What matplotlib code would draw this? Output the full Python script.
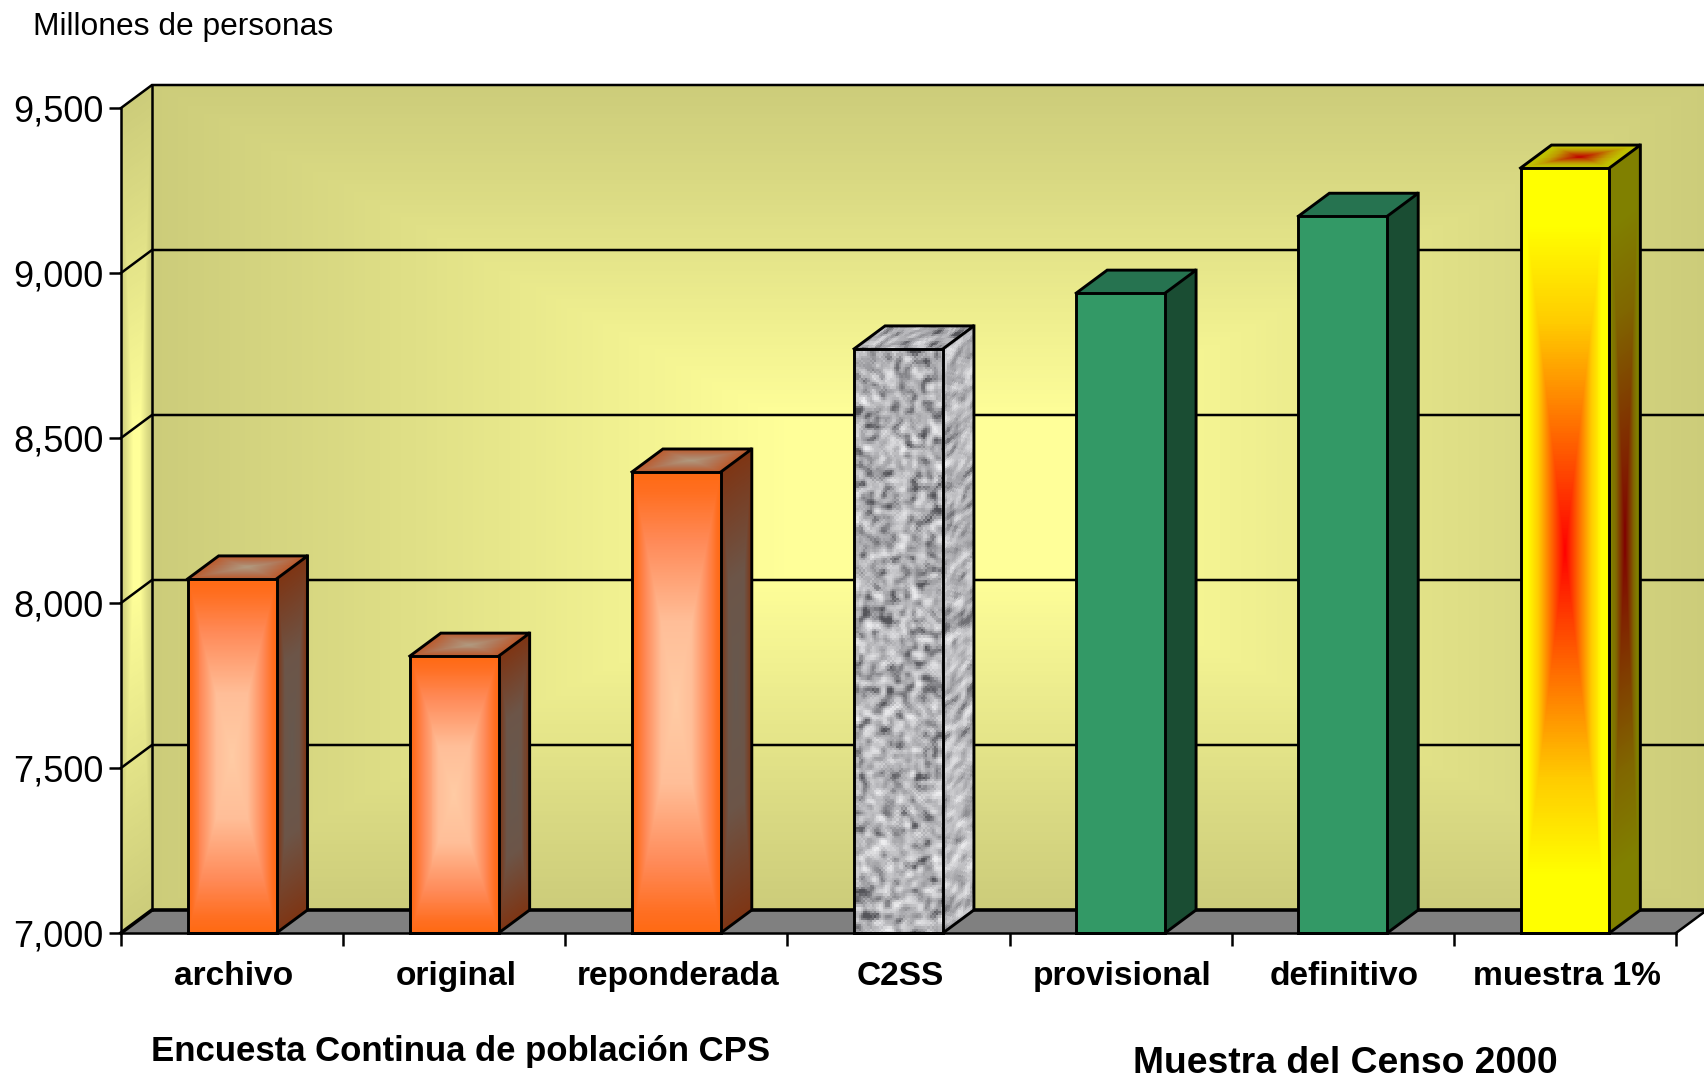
import numpy as np
import matplotlib
matplotlib.use('Agg')
import matplotlib.pyplot as plt
from matplotlib.colors import to_rgb

plt.rcParams['font.family'] = ['Liberation Sans', 'DejaVu Sans']

# datos
categorias = ['archivo', 'original', 'reponderada', 'C2SS', 'provisional', 'definitivo', 'muestra 1%']
valores = [8073, 7839, 8397, 8770, 8939, 9172, 9318]
marcas_y = [7000, 7500, 8000, 8500, 9000, 9500]
grupos = ['Encuesta Continua de población CPS', 'Muestra del Censo 2000']

W, H = 1704, 1082
fig = plt.figure(figsize=(W / 100, H / 100), dpi=100)
ax = fig.add_axes([121 / W, (H - 933) / H, 1555 / W, 825 / H])
ax.patch.set_visible(False)

# profundidad del efecto 3D en unidades de datos
DX = 31 / 222.14
DY = 23 / 0.33


def grad(stops, t):
    pos = [p for p, c in stops]
    rgb = np.array([to_rgb(c) for p, c in stops])
    return np.dstack([np.interp(t, pos, rgb[:, k]) for k in range(3)])


def centro(nx, ny, px=1.0, py=1.0):
    # degradado rectangular desde el centro de la cara
    u = np.abs(np.linspace(-1, 1, nx))
    v = np.abs(np.linspace(-1, 1, ny))
    U, V = np.meshgrid(u, v)
    return np.maximum(U ** px, V ** py)


def textura(nx, ny, seed):
    # ruido de granito, solo textura
    X, Y = np.meshgrid(np.arange(nx) + seed, np.arange(ny) + seed * 2)
    n = np.sin(X * 12.9898 + Y * 78.233) * 43758.5453
    n = n - np.floor(n)
    for _ in range(3):
        n = (n + np.roll(n, 1, 0) + np.roll(n, -1, 0) + np.roll(n, 1, 1) + np.roll(n, -1, 1)) / 5
    n = (n - n.mean()) / n.std()
    return np.clip(0.47 + n * 0.19, 0, 1)


def cara(p0, e1, e2, rgb, z):
    ny, nx = rgb.shape[:2]
    a = np.linspace(0, 1, nx + 1)
    b = np.linspace(0, 1, ny + 1)
    A, B = np.meshgrid(a, b)
    X = p0[0] + A * e1[0] + B * e2[0]
    Y = p0[1] + A * e1[1] + B * e2[1]
    m = ax.pcolormesh(X, Y, rgb, shading='flat', antialiased=False, linewidth=0, zorder=z)
    m.set_clip_on(False)


def linea(xs, ys, z, lw=1.8):
    ax.plot(xs, ys, color='black', lw=lw, zorder=z, clip_on=False, solid_capstyle='projecting',
            solid_joinstyle='miter')


ymin, ymax = marcas_y[0], marcas_y[-1]
n = len(categorias)

# pared del fondo, pared lateral y suelo
pared = [(0, '#FFFF99'), (0.18, '#FFFF99'), (0.75, '#DADA83'), (1, '#CCCC7A')]
cara((DX, ymin + DY), (n, 0), (0, ymax - ymin), grad(pared, centro(300, 200)), 1)
cara((0, ymin), (DX, DY), (0, ymax - ymin), grad(pared, centro(30, 200)), 1)
cara((0, ymin), (n, 0), (DX, DY), np.full((1, 1, 3), to_rgb('#808080')), 1)

for v in marcas_y:
    if v > ymin:
        linea([0, DX, n + DX], [v, v + DY, v + DY], 2)
linea([DX, DX], [ymin + DY, ymax + DY], 2)
linea([0, DX, n + DX], [ymin, ymin + DY, ymin + DY], 2, lw=2.6)
linea([n, n + DX], [ymin, ymin + DY], 2)

# estilos de cada barra: frente, lado, arriba
naranja = ([(0, '#FFCBA4'), (0.35, '#FFBE98'), (0.7, '#FF8A58'), (0.92, '#FF6E20'), (1, '#FF6A13')],
           [(0, '#66584E'), (0.5, '#6C5548'), (1, '#7E3514')],
           [(0, '#B09A80'), (0.5, '#B07A5C'), (1, '#BC5A2C')])
verde = ([(0, '#339966'), (1, '#339966')],
         [(0, '#1A4D33'), (1, '#1A4D33')],
         [(0, '#267350'), (1, '#267350')])
fuego = ([(0, '#FF0000'), (0.3, '#FF6600'), (0.6, '#FFCC00'), (0.85, '#FFFF00'), (1, '#FFFF00')],
         [(0, '#800000'), (0.3, '#803300'), (0.6, '#806600'), (0.85, '#808000'), (1, '#808000')],
         [(0, '#BF0000'), (0.3, '#BF4C00'), (0.6, '#BF9900'), (0.85, '#BFBF00'), (1, '#BFBF00')])
granito = [(0, '#55555A'), (0.35, '#A2A2A6'), (0.7, '#CFCFD2'), (1, '#EDEDEF')]
estilos = [naranja, naranja, naranja, granito, verde, verde, fuego]

for i, (val, est) in enumerate(zip(valores, estilos)):
    x0, x1 = i + 0.3, i + 0.7
    alto = val - ymin
    if est is granito:
        ny = int(alto * 0.33 / 2.2)
        cara((x0, ymin), (0.4, 0), (0, alto), grad(est, textura(40, ny, 3)), 3 + i)
        cara((x1, ymin), (DX, DY), (0, alto), grad(est, textura(14, ny, 7) * 0.85 + 0.12), 3 + i)
        cara((x0, val), (0.4, 0), (DX, DY), grad(est, textura(40, 11, 11) * 0.9), 3 + i)
    else:
        cara((x0, ymin), (0.4, 0), (0, alto), grad(est[0], centro(90, 300, 1.0, 1.0)), 3 + i)
        cara((x1, ymin), (DX, DY), (0, alto), grad(est[1], centro(30, 300, 1.0, 1.0)), 3 + i)
        cara((x0, val), (0.4, 0), (DX, DY), grad(est[2], centro(90, 24)), 3 + i)
    linea([x0, x0, x1, x1, x0], [ymin, val, val, ymin, ymin], 3 + i, lw=2.1)
    linea([x0, x0 + DX, x1 + DX, x1], [val, val + DY, val + DY, val], 3 + i, lw=2.1)
    linea([x1 + DX, x1 + DX, x1], [val + DY, ymin + DY, ymin], 3 + i, lw=2.1)

ax.set_xlim(0, n)
ax.set_ylim(ymin, ymax)
for lado in ['top', 'right']:
    ax.spines[lado].set_visible(False)
for lado in ['left', 'bottom']:
    ax.spines[lado].set_linewidth(1.8)
    ax.spines[lado].set_zorder(20)

ax.set_yticks(marcas_y)
ax.set_yticklabels([f'{v:,}' for v in marcas_y], fontsize=26)
ax.tick_params(axis='y', length=9, width=1.8, pad=3.5)
ax.set_xticks(np.arange(n + 1))
ax.set_xticklabels([])
ax.tick_params(axis='x', which='major', length=9, width=1.8)
ax.set_xticks(np.arange(n) + 0.507, minor=True)
ax.set_xticklabels(categorias, minor=True, fontsize=24.1, fontweight='bold')
ax.tick_params(axis='x', which='minor', length=0, pad=20.5)

fig.text(33 / W, 1 - 26.5 / H, 'Millones de personas', fontsize=22.9, va='center', ha='left')
fig.text(151 / W, 1 - 1052 / H, grupos[0], fontsize=25, fontweight='bold', va='center', ha='left')
fig.text(1133 / W, 1 - 1063.5 / H, grupos[1], fontsize=26.8, fontweight='bold', va='center', ha='left')

fig.savefig('out.png', dpi=100)
